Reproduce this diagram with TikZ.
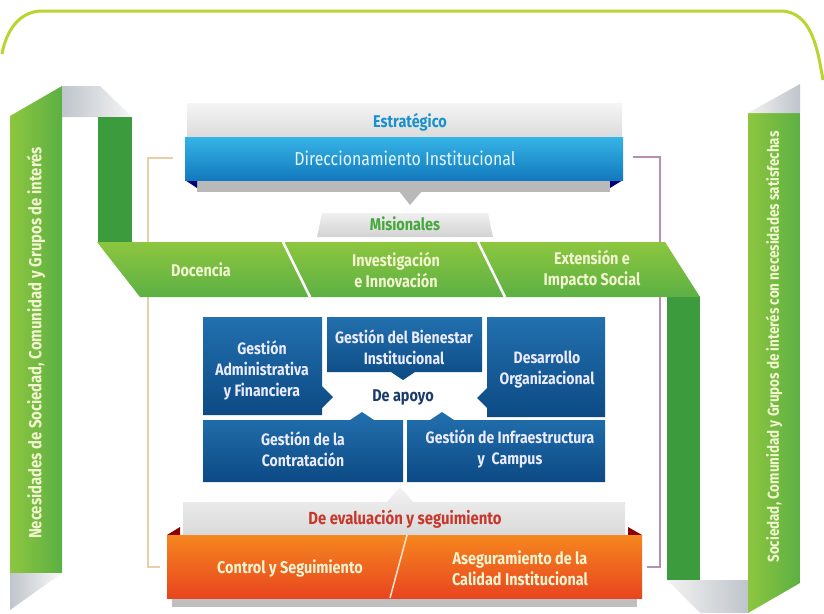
\documentclass[tikz,border=0pt]{standalone}
\usepackage{fontspec}
\setmainfont{Fira Sans}[FakeStretch=0.85]
\usepackage{tikz}

\definecolor{limeline}{HTML}{BAD531}
\definecolor{lightgreen}{HTML}{8DC63F}
\definecolor{midgreen}{HTML}{5CB044}
\definecolor{darkgreen}{HTML}{3B9B3D}
\definecolor{foldgray}{HTML}{BFC5CB}
\definecolor{boxblue}{HTML}{2270AE}
\definecolor{boxnavy}{HTML}{0C4A84}
\definecolor{skyblue}{HTML}{36B4E6}
\definecolor{deepblue}{HTML}{1279BE}
\definecolor{orangetop}{HTML}{F6861F}
\definecolor{orangebot}{HTML}{E8451F}
\definecolor{evalred}{HTML}{C7372B}
\definecolor{labelblue}{HTML}{1A90CC}
\definecolor{labelgreen}{HTML}{45A83C}
\definecolor{apoyonavy}{HTML}{1B3C6A}
\definecolor{paletext}{HTML}{F2F5D0}
\definecolor{peachline}{HTML}{EBCDA6}
\definecolor{mauveline}{HTML}{B690B4}

\tikzset{%
  bandtext/.style={
    text=paletext,
    font=\bfseries\fontsize{17}{21}\selectfont,
    align=center
  },
  supporttext/.style={
    text=white!92!blue,
    font=\bfseries\fontsize{16.5}{21}\selectfont,
    align=center
  },
  sidetext/.style={
    text=paletext,
    font=\bfseries\fontsize{17.5}{21}\selectfont,
    rotate=90
  },
  fold/.style={left color=foldgray, right color=gray!8},
  support box/.style={top color=boxblue, bottom color=boxnavy},
}

\begin{document}
\begin{tikzpicture}[x=1pt,y=-1pt]
  \useasboundingbox (0,0) rectangle (824,613);
  \fill[white] (0,0) rectangle (824,613);

  % outer frame
  \draw[limeline, line width=3] (2,54) to[out=80,in=180] (42,11) -- (780,11)
    to[out=0,in=100] (823,80);

  % side brackets
  \coordinate (lt) at (173,158);
  \coordinate (lb) at (160,567);
  \coordinate (rt) at (633,157);
  \coordinate (rb) at (647,567);
  \draw[peachline, line width=1.4] (lt) -- (148,158) -- (148,567) -- (lb);
  \draw[mauveline, line width=1.4] (rt) -- (660,157) -- (660,567) -- (rb);

  % left ribbon
  \shade[left color=lightgreen, right color=midgreen]
    (10,116) -- (62,86) -- (62,573) -- (10,573) -- cycle;
  \shade[fold] (62,86) -- (100,86) -- (132,117) -- (62,117) -- cycle;
  \shade[left color=foldgray, right color=gray!5] (10,573) -- (62,573) -- (10,610) -- cycle;
  \fill[darkgreen] (98,117) rectangle (132,243);

  % right ribbon
  \fill[darkgreen] (667,296) rectangle (700,580);
  \shade[left color=gray!10, right color=foldgray]
    (667,580) -- (748,580) -- (748,613) -- (700,613) -- cycle;
  \shade[left color=lightgreen, right color=midgreen]
    (748,113) -- (800,113) -- (800,583) -- (748,613) -- cycle;
  \shade[left color=gray!10, right color=foldgray] (748,113) -- (800,84) -- (800,113) -- cycle;

  \node[sidetext] (need) at (36,343) {Necesidades de Sociedad, Comunidad y Grupos de interés};
  \node[sidetext, font=\bfseries\fontsize{15.8}{19}\selectfont] (done) at (774,347)
    {Sociedad, Comunidad y Grupos de interés con necesidades satisfechas};

  % estrategico
  \shade[top color=gray!8, bottom color=gray!28] (187,103) rectangle (622,137);
  \fill[gray!55] (197,180) rectangle (610,192);
  \fill[gray!55] (399,191) -- (422,191) -- (410,205) -- cycle;
  \fill[blue!45!black] (185,180) -- (197,180) -- (197,188) -- cycle;
  \fill[blue!45!black] (623,180) -- (610,180) -- (610,188) -- cycle;
  \shade[top color=skyblue, bottom color=deepblue] (185,137) rectangle (623,180);
  \node[text=labelblue, font=\bfseries\fontsize{17}{21}\selectfont] (estr) at (410,122) {Estratégico};
  \node[text=white!90!cyan, font=\fontsize{18.7}{23}\selectfont] (dir) at (405,158) {Direccionamiento Institucional};

  % misionales
  \shade[top color=gray!12, bottom color=gray!35] (317,237) -- (322,213) -- (488,213) -- (493,237) -- cycle;
  \node[text=labelgreen, font=\bfseries\fontsize{17}{21}\selectfont] (mis) at (405,224) {Misionales};
  \shade[top color=lightgreen, bottom color=midgreen]
    (97,242) -- (665,242) -- (700,297) -- (140,297) -- cycle;
  \draw[white, line width=2.5] (283,242) -- (310,297);
  \draw[white, line width=2.5] (478,242) -- (505,297);
  \foreach \name/\x/\txt in {doc/201/Docencia,
                             inv/396/{Investigación\\e Innovación},
                             ext/592/{Extensión e\\Impacto Social}} {
    \node[bandtext] (\name) at (\x,270) {\txt};
  }

  % de apoyo
  \shade[support box] (203,317) -- (322,317) -- (322,386) -- (333,397) -- (322,408)
    -- (322,415) -- (203,415) -- cycle;
  \shade[support box] (327,317) -- (482,317) -- (482,372) -- (415,372) -- (403,380)
    -- (391,372) -- (327,372) -- cycle;
  \shade[support box] (487,317) -- (605,317) -- (605,417) -- (487,417) -- (487,408)
    -- (477,398) -- (487,388) -- cycle;
  \shade[support box] (203,420) -- (350,420) -- (362,412) -- (374,420) -- (403,420)
    -- (403,482) -- (203,482) -- cycle;
  \shade[support box] (407,420) -- (430,420) -- (442,412) -- (454,420) -- (605,420)
    -- (605,482) -- (407,482) -- cycle;
  \node[supporttext] (adm) at (262,370) {Gestión\\Administrativa\\y Financiera};
  \node[supporttext] (bien) at (404,347) {Gestión del Bienestar\\Institucional};
  \node[supporttext] (des) at (547,370) {Desarrollo\\Organizacional};
  \node[supporttext] (cont) at (303,449) {Gestión de la\\Contratación};
  \node[supporttext] (infra) at (510,449) {Gestión de Infraestructura\\y\ \ Campus};
  \node[text=apoyonavy, font=\bfseries\fontsize{17}{21}\selectfont] (apoyo) at (403,397) {De apoyo};

  % evaluacion y seguimiento
  \shade[top color=gray!10, bottom color=gray!30] (183,502) -- (387,502) -- (400,487)
    -- (413,502) -- (625,502) -- (625,535) -- (183,535) -- cycle;
  \fill[gray!50] (172,597) rectangle (637,607);
  \fill[red!55!black] (167,535) -- (180,527) -- (180,535) -- cycle;
  \fill[red!55!black] (642,535) -- (628,527) -- (628,535) -- cycle;
  \shade[top color=orangetop, bottom color=orangebot] (167,535) rectangle (642,598);
  \draw[white!80!orange, line width=1.5] (407,535) -- (390,598);
  \node[text=evalred, font=\bfseries\fontsize{17.5}{21}\selectfont] (eval) at (405,519) {De evaluación y seguimiento};
  \node[bandtext] (ctrl) at (290,568) {Control y Seguimiento};
  \node[bandtext] (aseg) at (520,568) {Aseguramiento de la\\Calidad Institucional};
\end{tikzpicture}
\end{document}
